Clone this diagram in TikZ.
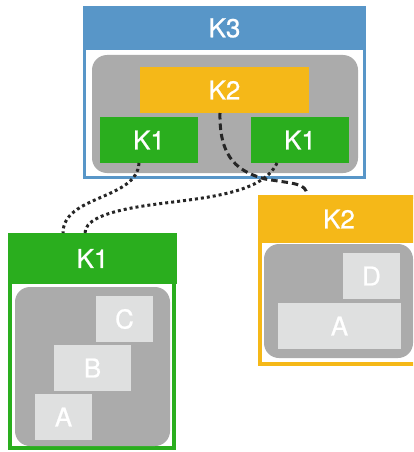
\documentclass[tikz,border=0pt]{standalone}
\usepackage{fontspec}
\setmainfont{TeX Gyre Heros}
\newfontfamily\kfont{TeX Gyre Heros}[FakeBold=0.8]
\definecolor{kblue}{RGB}{88,150,200}
\definecolor{korange}{RGB}{245,184,24}
\definecolor{kgreen}{RGB}{42,174,30}
\definecolor{kgray}{RGB}{171,171,171}
\definecolor{klight}{RGB}{223,224,224}
\begin{document}
\begin{tikzpicture}[x=1pt,y=-1pt,
  sz/.style 2 args={minimum width=#1pt, minimum height=#2pt},
  base/.style={inner sep=0pt, outer sep=0pt, text=white,
    font=\kfont\fontsize{26}{30}\selectfont},
  frame/.style={base, draw=#1, fill=white, line width=4.5pt},
  hdr/.style={base, fill=#1},
  panel/.style={base, fill=kgray, rounded corners=15pt},
  item/.style={base, fill=klight},
  dashconn/.style={black!85, line width=3pt, dash pattern=on 6.5pt off 4pt},
  dotconn/.style={black!85, line width=3pt, dash pattern=on 3pt off 3pt}]
\useasboundingbox (0,0) rectangle (413,452);
\clip (0,0) rectangle (413,452);

% K3 composite
\node[frame=kblue, line width=3.5pt, sz={280}{170}] (k3f) at (224.5,92.5) {};
\node[hdr=kblue, sz={283}{44}] (k3h) at (224.5,28) {K3};
\node[panel, sz={266}{118}] (k3p) at (225,114) {};
\node[hdr=korange, sz={169}{46}] (k2in) at (224.5,90) {K2};
\node[hdr=kgreen, sz={98}{46}] (k1a) at (149,140) {K1};
\node[hdr=kgreen, sz={98}{46}] (k1b) at (300,140) {K1};

% K1 composite
\node[frame=kgreen, sz={164}{213}] (k1f) at (92,341.5) {};
\node[hdr=kgreen, sz={169}{51}] (k1fh) at (92.5,258.5) {K1};
\node[panel, sz={155}{159}] (k1p) at (92.5,366.5) {};
\node[item, sz={57}{46}] (c) at (124.5,319) {C};
\node[item, sz={77}{46}] (b) at (92.5,368) {B};
\node[item, sz={57}{46}] (a1) at (63.5,417) {A};

% K2 composite
\node[frame=korange, sz={158}{167}] (k2f) at (339,280.5) {};
\node[hdr=korange, sz={162}{48}] (k2fh) at (339,219) {K2};
\node[panel, sz={149}{114}] (k2p) at (338.5,301) {};
\node[item, sz={57}{46}] (d) at (371.5,276) {D};
\node[item, sz={123}{46}] (a2) at (339.5,326) {A};

% connectors
\draw[dashconn] ([xshift=-4.5pt]k2in.south) .. controls (219,160) and (240,172) .. (265,179)
  .. controls (295,184) and (306,183) .. ([xshift=-32pt]k2fh.north);
\draw[dotconn] ([xshift=-10pt]k1a.south) .. controls (137,200) and (63,195) .. ([xshift=-29.5pt]k1fh.north);
\draw[dotconn] ([xshift=-23pt]k1b.south) .. controls (262,195) and (200,198) .. (150,205)
  .. controls (100,212) and (85,222) .. ([xshift=-7.5pt]k1fh.north);
\end{tikzpicture}
\end{document}
